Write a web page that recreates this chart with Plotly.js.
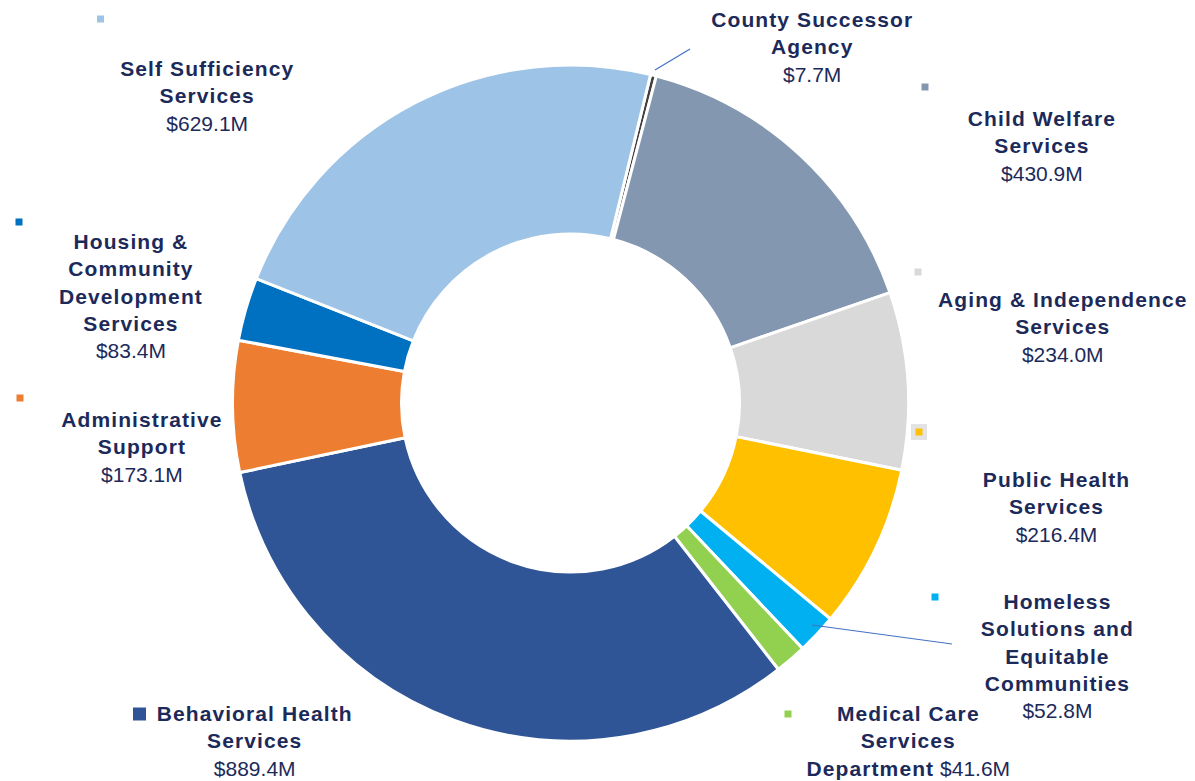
<!DOCTYPE html>
<html>
<head>
<meta charset="utf-8">
<script src="https://cdn.plot.ly/plotly-3.0.1.min.js"></script>
<style>
html,body{margin:0;padding:0;background:#fff;}
#chart{width:1195px;height:781px;}
#chart .annotation-text tspan[style*="bold"]{letter-spacing:1.1px;}
</style>
</head>
<body>
<div id="chart"></div>
<script>
// ---- data ----
const categories = [
  "County Successor Agency",
  "Child Welfare Services",
  "Aging & Independence Services",
  "Public Health Services",
  "Homeless Solutions and Equitable Communities",
  "Medical Care Services Department",
  "Behavioral Health Services",
  "Administrative Support",
  "Housing & Community Development Services",
  "Self Sufficiency Services"
];
const labelLines = [
  "County Successor<br>Agency",
  "Child Welfare<br>Services",
  "Aging & Independence<br>Services",
  "Public Health<br>Services",
  "Homeless<br>Solutions and<br>Equitable<br>Communities",
  "Medical Care<br>Services<br>Department",
  "Behavioral Health<br>Services",
  "Administrative<br>Support",
  "Housing &<br>Community<br>Development<br>Services",
  "Self Sufficiency<br>Services"
];
const valuesM = [7.7, 430.9, 234.0, 216.4, 52.8, 41.6, 889.4, 173.1, 83.4, 629.1];
const colors = ["#404040", "#8497B0", "#D9D9D9", "#FFC000", "#00B0F0", "#92D050", "#2F5597", "#ED7D31", "#0070C0", "#9DC3E6"];

// ---- layout helpers (pixel -> paper) ----
const W = 1195, H = 781;
const px = x => x / W;
const py = y => 1 - y / H;

// label block centres (pixels) and separators between name and value
const labelPos = [
  [812, 47], [1042, 146], [1063, 327], [1056, 507], [1057, 656],
  [908, 741], [254, 741], [142, 447], [131, 296], [207, 96]
];
const valueSep = ["<br>", "<br>", "<br>", "<br>", "<br>", " ", "<br>", "<br>", "<br>", "<br>"];
// small key squares: [x, y, size] or null
const keyPos = [
  null, [925, 87, 7], [918, 272, 7], [919, 432, 7], [935, 597, 7],
  [788, 714, 7], [139.5, 714, 13], [20, 398, 7], [19, 222, 7], [100.5, 19, 7]
];

const textColor = "#1c2a5a";
const fontFam = "Liberation Sans, Arial, sans-serif";

const annotations = categories.map((c, i) => ({
  xref: "paper", yref: "paper",
  x: px(labelPos[i][0]), y: py(labelPos[i][1]),
  xanchor: "center", yanchor: "middle",
  showarrow: false,
  align: "center",
  text: "<b>" + labelLines[i] + "</b>" + valueSep[i] + "$" + valuesM[i].toFixed(1) + "M",
  font: {family: fontFam, size: 21, color: textColor}
}));

const shapes = [];
// grey frame behind Public Health key
shapes.push({type: "rect", xref: "paper", yref: "paper",
  x0: px(911), x1: px(927), y0: py(424), y1: py(440),
  fillcolor: "#E3E3E3", line: {width: 0}, layer: "above"});
keyPos.forEach((k, i) => {
  if (!k) return;
  const [x, y, s] = k;
  shapes.push({type: "rect", xref: "paper", yref: "paper",
    x0: px(x - s / 2), x1: px(x + s / 2), y0: py(y + s / 2), y1: py(y - s / 2),
    fillcolor: colors[i], line: {width: 0}, layer: "above"});
});
// leader lines
shapes.push({type: "line", xref: "paper", yref: "paper",
  x0: px(655), y0: py(70), x1: px(690), y1: py(49),
  line: {color: "#4472C4", width: 1.2}, layer: "above"});
shapes.push({type: "line", xref: "paper", yref: "paper",
  x0: px(812), y0: py(625), x1: px(952), y1: py(644),
  line: {color: "#4472C4", width: 1.2}, layer: "above"});

// donut placement: centre (570.5, 403), outer radius 338 px
const cx = 570.5, cy = 403, R = 338;

const trace = {
  type: "pie",
  labels: categories,
  values: valuesM,
  hole: 0.5,
  sort: false,
  direction: "clockwise",
  rotation: 13.7,
  textinfo: "none",
  hoverinfo: "label+value",
  marker: {colors: colors, line: {color: "#ffffff", width: 3}},
  domain: {x: [px(cx - R), px(cx + R)], y: [py(cy + R), py(cy - R)]},
  showlegend: false
};

const layout = {
  width: W, height: H,
  margin: {l: 0, r: 0, t: 0, b: 0},
  paper_bgcolor: "#ffffff",
  plot_bgcolor: "#ffffff",
  showlegend: false,
  annotations: annotations,
  shapes: shapes,
  font: {family: fontFam}
};

Plotly.newPlot("chart", [trace], layout, {displayModeBar: false, staticPlot: true});
</script>
</body>
</html>
